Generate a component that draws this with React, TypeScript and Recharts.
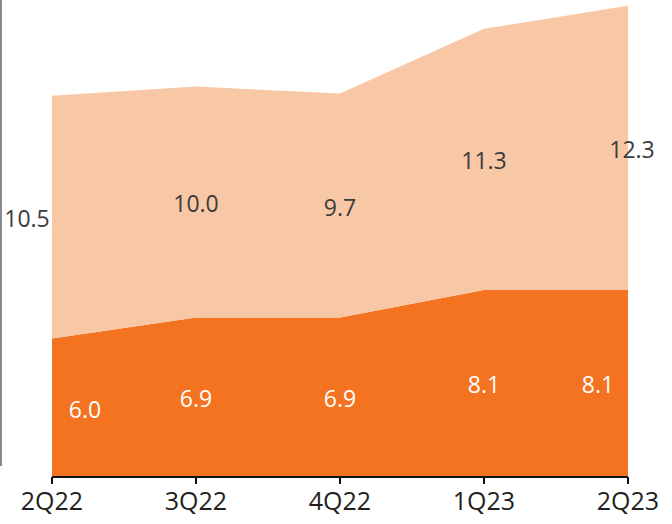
import { AreaChart, Area, Line, XAxis, YAxis, LabelList } from "recharts";

const quarters = ["2Q22", "3Q22", "4Q22", "1Q23", "2Q23"];
const baseValues = [6.0, 6.9, 6.9, 8.1, 8.1];
const topValues = [10.5, 10.0, 9.7, 11.3, 12.3];

const DARK = "#F37321";
const LIGHT = "#F8C7A6";
const FONT = "'Open Sans', 'Noto Sans', sans-serif";

// band midpoints so labels sit in the middle of each layer
const data = quarters.map((q, i) => ({
  q,
  base: baseValues[i],
  top: topValues[i],
  baseMid: baseValues[i] / 2,
  topMid: baseValues[i] + topValues[i] / 2,
}));

const baseDx = [33, 0, 0, 0, -30];
const topDx = [-25, 0, 0, 0, 4];

const makeLabel = (color: string, dxs: number[]) => (props: any) => {
  const { x, y, value, index } = props;
  return (
    <text
      x={x + dxs[index]}
      y={y + 1}
      textAnchor="middle"
      dominantBaseline="central"
      fill={color}
      fontSize={23}
      fontFamily={FONT}
    >
      {Number(value).toFixed(1)}
    </text>
  );
};

export default function App() {
  return (
    <div style={{ position: "absolute", left: 0, top: 0, width: 672, height: 524, background: "#fff" }}>
      <div style={{ position: "absolute", left: 0, top: 0, width: 2, height: 466, background: "#8a8a8a" }} />
      <AreaChart width={672} height={524} data={data} margin={{ top: 0, right: 44, left: 52, bottom: 0 }}>
        <XAxis
          dataKey="q"
          height={47}
          axisLine={{ stroke: "#111", strokeWidth: 2 }}
          tickLine={{ stroke: "#111", strokeWidth: 2 }}
          tickSize={7}
          tickMargin={8}
          tick={{ fill: "#231F20", fontSize: 25, fontFamily: FONT }}
          interval={0}
        />
        <YAxis hide domain={[0, 20.65]} />
        <Area type="linear" dataKey="base" stackId="s" stroke="none" fill={DARK} fillOpacity={1} isAnimationActive={false} />
        <Area type="linear" dataKey="top" stackId="s" stroke="none" fill={LIGHT} fillOpacity={1} isAnimationActive={false} />
        <Line type="linear" dataKey="baseMid" stroke="none" dot={false} activeDot={false} isAnimationActive={false}>
          <LabelList dataKey="base" content={makeLabel("#ffffff", baseDx)} />
        </Line>
        <Line type="linear" dataKey="topMid" stroke="none" dot={false} activeDot={false} isAnimationActive={false}>
          <LabelList dataKey="top" content={makeLabel("#3b3b3b", topDx)} />
        </Line>
      </AreaChart>
    </div>
  );
}
